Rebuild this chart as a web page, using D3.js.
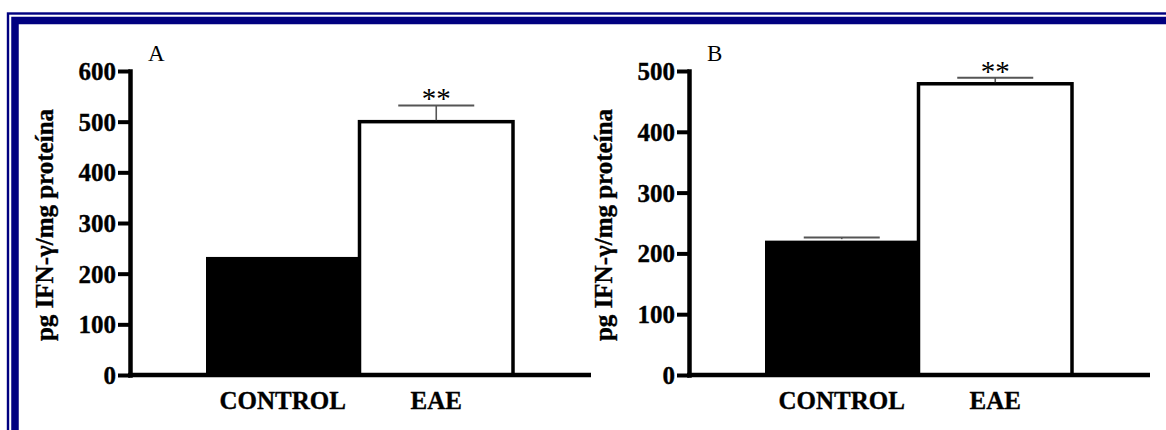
<!DOCTYPE html>
<html>
<head>
<meta charset="utf-8">
<script src="https://cdn.jsdelivr.net/npm/d3@7/dist/d3.min.js"></script>
<style>
  html, body { margin: 0; padding: 0; background: #fff; }
  svg { display: block; }
  text { font-family: "Liberation Serif", "Times New Roman", serif; fill: #000; }
</style>
</head>
<body>
<svg id="chart" width="1166" height="430"></svg>
<script>
// IFN-γ content, two experiments (A and B)
const categories = ["CONTROL", "EAE"];

const panelLabels = ["A", "B"];

const valuesA = [233, 500];
const errorsA = [null, 32];
const ticksA = [0, 100, 200, 300, 400, 500, 600];
const maxA = 600;

const valuesB = [221, 479];
const errorsB = [5, 10];
const ticksB = [0, 100, 200, 300, 400, 500];
const maxB = 500;

const significance = [null, "**"];

const yTitle = "pg IFN-γ/mg proteína";

const svg = d3.select("#chart");

// double navy frame
const navy = "#000080";
svg.append("rect")
  .attr("x", 8).attr("y", 13.5)
  .attr("width", 1400).attr("height", 800)
  .attr("fill", "none").attr("stroke", navy).attr("stroke-width", 2.4);
svg.append("rect")
  .attr("x", 15).attr("y", 20.5)
  .attr("width", 1400).attr("height", 800)
  .attr("fill", "none").attr("stroke", navy).attr("stroke-width", 7.5);

const baseY = 375;

function boldText(sel, size) {
  sel.style("font-family", "'Liberation Serif', serif")
    .style("font-weight", "bold")
    .style("font-size", size + "px")
    .attr("fill", "#000")
    .attr("stroke", "#000")
    .attr("stroke-width", 0.35);
}

function drawPanel(opts) {
  const { left, label, values, errors, ticks, max, titleX } = opts;
  const g = svg.append("g");

  const y = d3.scaleLinear().domain([0, max]).range([baseY, 71]);
  const x = d3.scaleBand().domain(categories).range([left + 76, left + 383]).padding(0);

  // y axis
  const yAxis = g.append("g")
    .attr("transform", `translate(${left},0)`)
    .call(d3.axisLeft(y).tickValues(ticks).tickSize(12).tickSizeOuter(0).tickPadding(2).tickFormat(d3.format("d")));
  yAxis.select(".domain")
    .attr("stroke", "#000").attr("stroke-width", 4.5).attr("stroke-linecap", "square");
  yAxis.selectAll(".tick line")
    .attr("stroke", "#000").attr("stroke-width", 4);
  yAxis.selectAll(".tick text")
    .call(boldText, 25)
    .attr("dy", "0.34em");

  // bars
  g.selectAll("rect.bar")
    .data(categories.map((c, i) => ({ c, v: values[i], i })))
    .join("rect")
    .attr("class", "bar")
    .attr("x", d => x(d.c))
    .attr("width", x.bandwidth())
    .attr("y", d => y(d.v))
    .attr("height", d => y(0) - y(d.v))
    .attr("fill", d => d.i === 0 ? "#000" : "#fff")
    .attr("stroke", "#000")
    .attr("stroke-width", d => d.i === 0 ? 0 : 3.5);

  // error bars (upper half only)
  const errData = categories.map((c, i) => ({ c, v: values[i], e: errors[i], s: significance[i] }))
    .filter(d => d.e != null);
  const cx = d => x(d.c) + x.bandwidth() / 2;
  g.selectAll("line.stem")
    .data(errData)
    .join("line")
    .attr("x1", cx).attr("x2", cx)
    .attr("y1", d => y(d.v) - 1.5)
    .attr("y2", d => y(d.v + d.e))
    .attr("stroke", "#555").attr("stroke-width", 1.6);
  g.selectAll("line.cap")
    .data(errData)
    .join("line")
    .attr("x1", d => cx(d) - 38).attr("x2", d => cx(d) + 38)
    .attr("y1", d => y(d.v + d.e)).attr("y2", d => y(d.v + d.e))
    .attr("stroke", "#555").attr("stroke-width", 2);

  // significance marks
  g.selectAll("text.sig")
    .data(errData.filter(d => d.s))
    .join("text")
    .attr("x", cx)
    .attr("y", d => y(d.v + d.e) + 3)
    .attr("text-anchor", "middle")
    .style("font-size", "29px")
    .attr("fill", "#333")
    .text(d => d.s);

  // x axis baseline
  g.append("line")
    .attr("x1", left - 2).attr("x2", left + 461)
    .attr("y1", baseY).attr("y2", baseY)
    .attr("stroke", "#000").attr("stroke-width", 4.5);

  // category labels
  const xAxis = g.append("g")
    .attr("transform", `translate(0,${baseY})`)
    .call(d3.axisBottom(x).tickSize(0).tickPadding(0));
  xAxis.select(".domain").remove();
  xAxis.selectAll(".tick text")
    .call(boldText, 25)
    .attr("dy", null)
    .attr("y", 34);

  // panel letter
  g.append("text")
    .attr("x", left + 18).attr("y", 61)
    .style("font-size", "23px")
    .text(label);

  // y title
  g.append("text")
    .attr("transform", `translate(${titleX},225) rotate(-90)`)
    .attr("text-anchor", "middle")
    .call(boldText, 25)
    .text(yTitle);
}

drawPanel({ left: 130, label: panelLabels[0], values: valuesA, errors: errorsA, ticks: ticksA, max: maxA, titleX: 53 });
drawPanel({ left: 689, label: panelLabels[1], values: valuesB, errors: errorsB, ticks: ticksB, max: maxB, titleX: 612 });
</script>
</body>
</html>
